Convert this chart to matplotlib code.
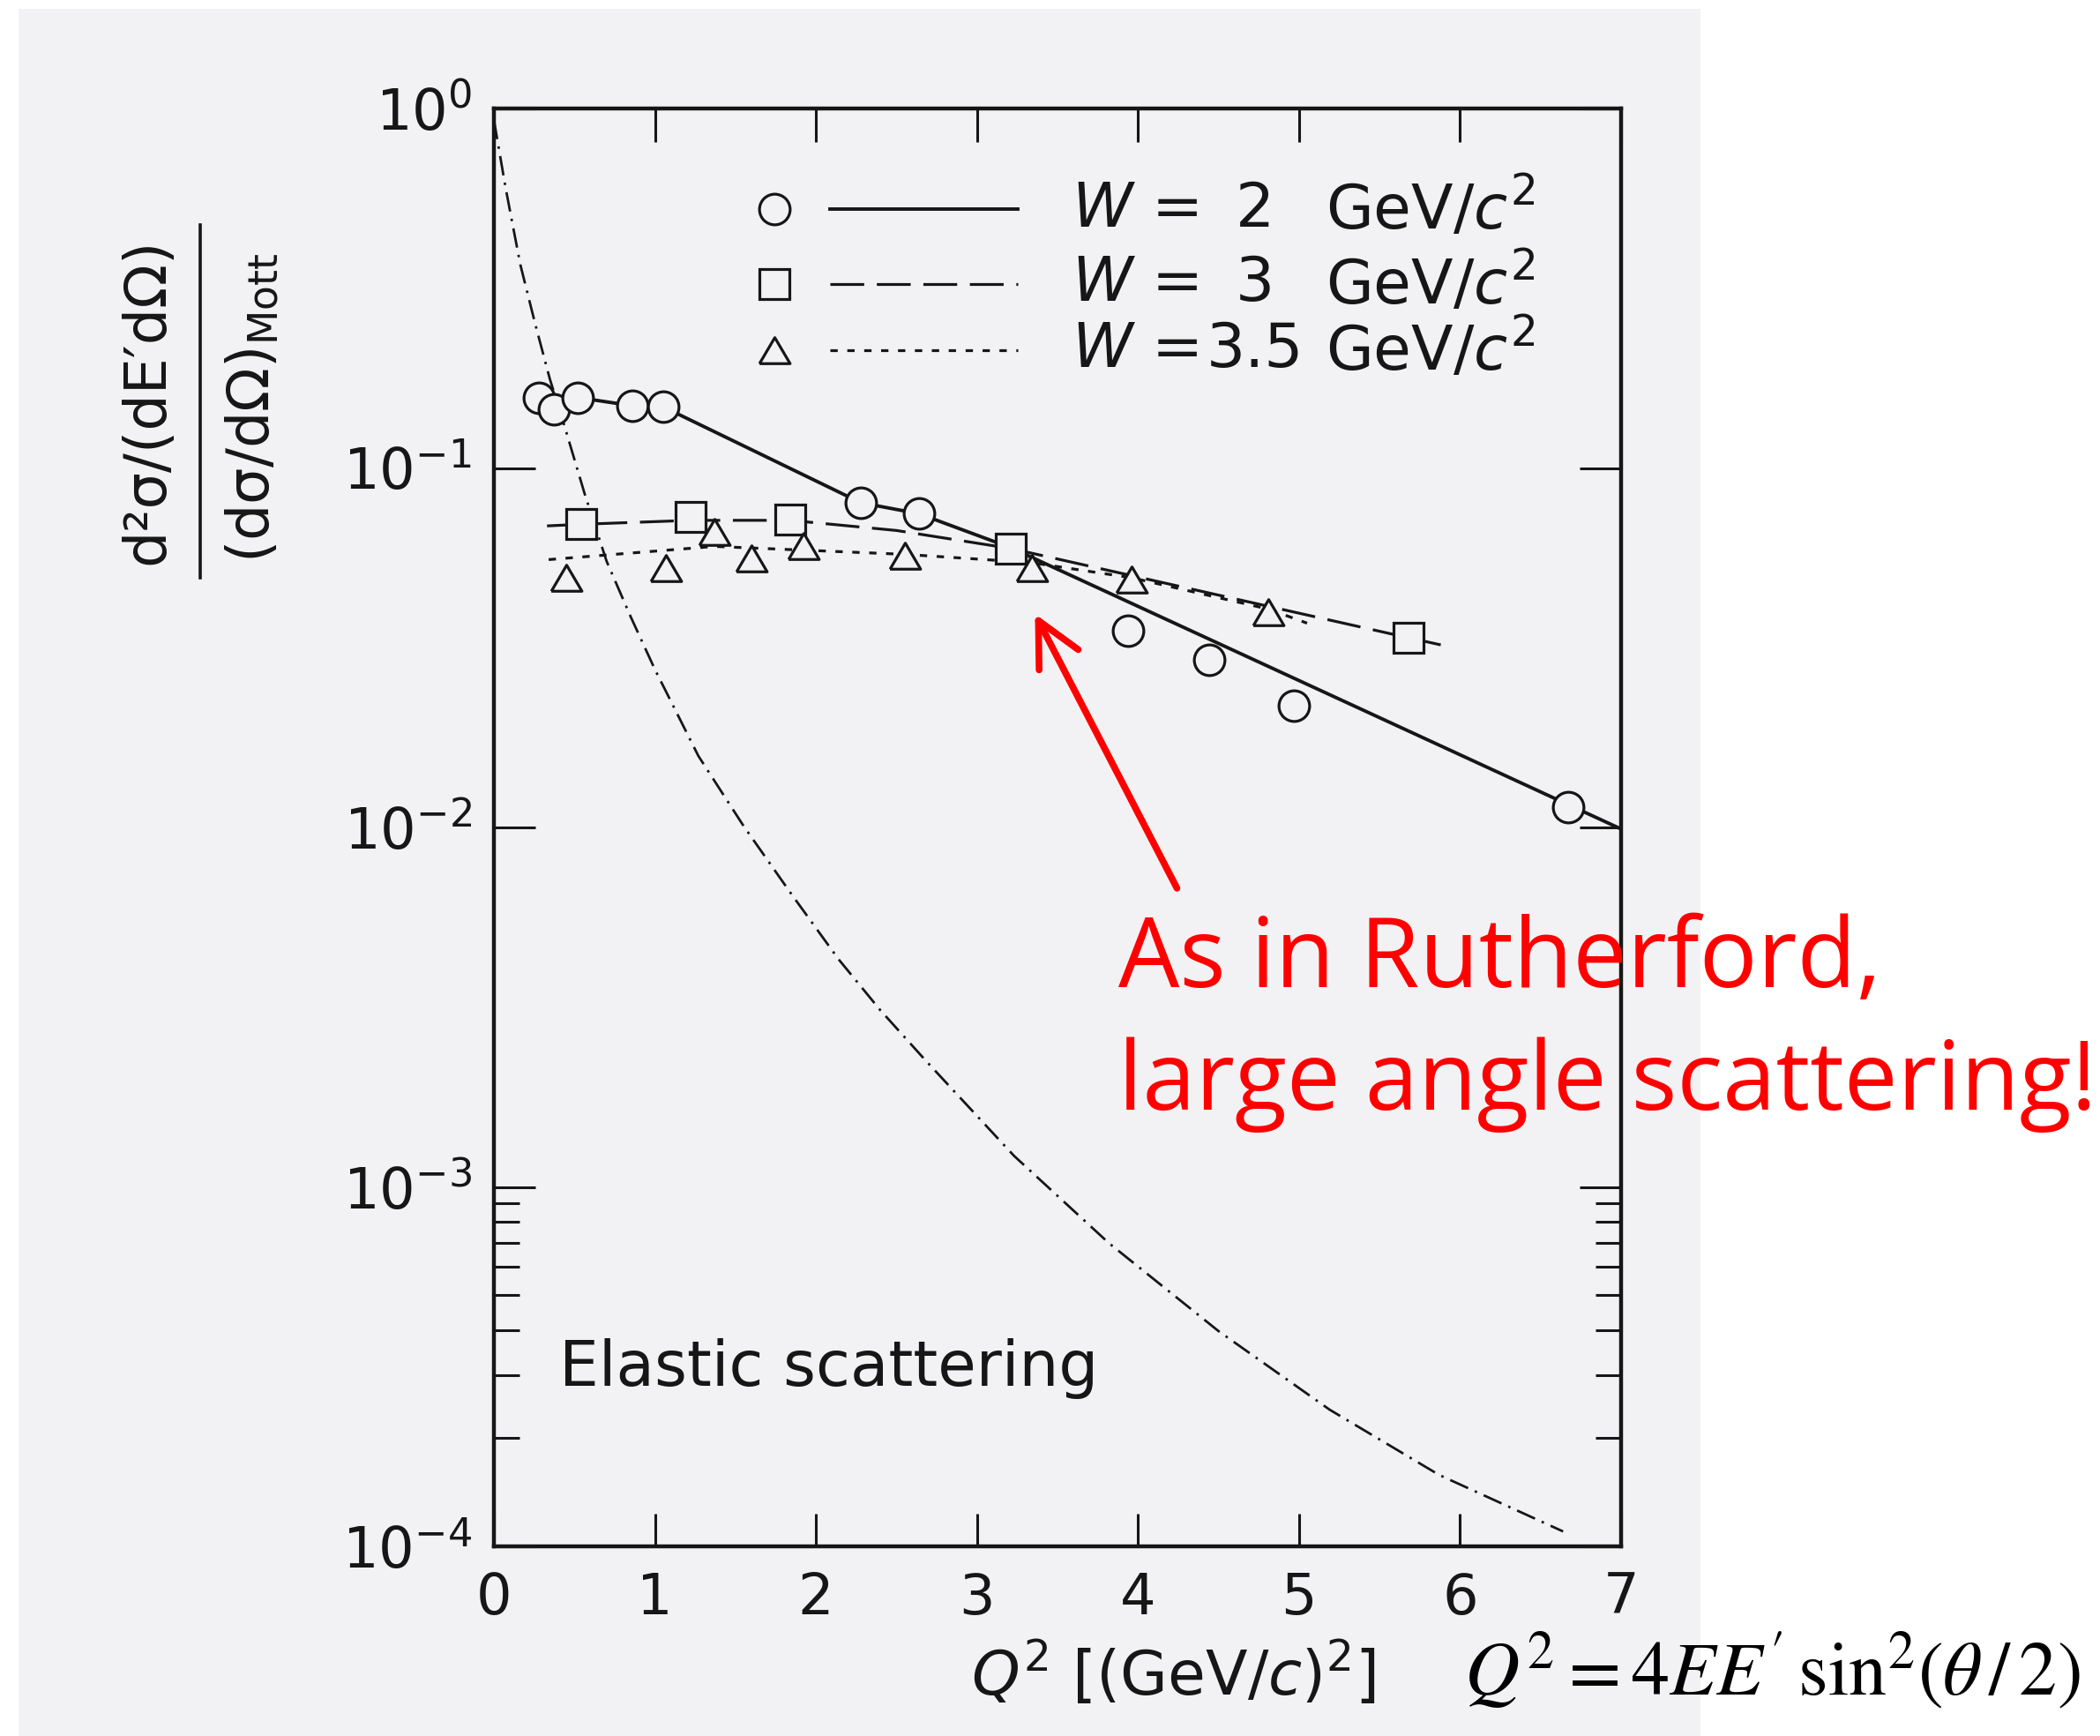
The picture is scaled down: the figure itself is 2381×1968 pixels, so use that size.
import matplotlib
matplotlib.use("Agg")
import matplotlib.pyplot as plt
from matplotlib.patches import Rectangle
from matplotlib.lines import Line2D
from matplotlib.ticker import NullLocator, NullFormatter

# ---------------- data ----------------
# W = 2 GeV/c^2 (circles, solid curve)
w2_q2 = [0.28, 0.37, 0.52, 0.86, 1.05, 2.28, 2.64, 3.94, 4.44, 4.97, 6.67]
w2_val = [0.157, 0.146, 0.157, 0.149, 0.148, 0.080, 0.0746, 0.0353, 0.0293, 0.0218, 0.0114]
w2_line_q2 = [0.28, 0.52, 0.86, 1.05, 2.28, 2.64, 3.21, 7.0]
w2_line_val = [0.157, 0.157, 0.149, 0.148, 0.080, 0.0746, 0.060, 0.0099]

# W = 3 GeV/c^2 (squares, dashed curve)
w3_q2 = [0.54, 1.22, 1.84, 3.21, 5.68]
w3_val = [0.0697, 0.0729, 0.0720, 0.0597, 0.0337]
w3_line_q2 = [0.33, 0.54, 1.22, 1.84, 2.5, 3.21, 5.68, 5.88]
w3_line_val = [0.069, 0.0697, 0.0715, 0.0715, 0.067, 0.0597, 0.0337, 0.0322]

# W = 3.5 GeV/c^2 (triangles, dotted curve)
w35_q2 = [0.45, 1.07, 1.37, 1.60, 1.92, 2.55, 3.34, 3.96, 4.81]
w35_val = [0.0494, 0.0526, 0.0664, 0.0559, 0.0605, 0.0569, 0.0526, 0.0490, 0.0397]
w35_line_q2 = [0.34, 1.37, 2.55, 3.0, 3.34, 3.96, 4.81, 5.05]
w35_line_val = [0.0556, 0.0605, 0.0575, 0.0558, 0.0545, 0.0495, 0.0405, 0.037]

# Elastic scattering (dash-dot curve)
el_q2 = [0.0, 0.073, 0.164, 0.256, 0.347, 0.438, 0.564, 0.70, 0.85, 1.0, 1.27, 1.55,
         1.85, 2.14, 2.4, 2.68, 3.23, 3.82, 4.50, 5.19, 5.87, 6.64]
el_val = [0.93, 0.60, 0.368, 0.252, 0.177, 0.131, 0.0846, 0.055, 0.0385, 0.0275, 0.0158, 0.0101,
          0.0065, 0.0043, 0.0031, 0.00225, 0.00122, 0.000697, 0.000397, 0.000240, 0.000158,
          0.000110]

x_ticks = [0, 1, 2, 3, 4, 5, 6, 7]
x_ticklabels = ["0", "1", "2", "3", "4", "5", "6", "7"]
y_ticks = [1e-4, 1e-3, 1e-2, 1e-1, 1e0]
y_ticklabels = [r"$10^{-4}$", r"$10^{-3}$", r"$10^{-2}$", r"$10^{-1}$", r"$10^{0}$"]
y_minor = [2e-4, 3e-4, 4e-4, 5e-4, 6e-4, 7e-4, 8e-4, 9e-4]

legend_numbers = ["2", "3", "3.5"]

# ---------------- figure ----------------
W, H = 2381, 1968
BG = "#f2f2f4"
INK = "#161616"
fig = plt.figure(figsize=(W / 100, H / 100), dpi=100, facecolor="white")

# scanned page area
fig.patches.append(Rectangle((21 / W, 0), (1928 - 21) / W, 1 - 10 / H,
                             transform=fig.transFigure, facecolor=BG,
                             edgecolor="none", zorder=-10))

ax_l, ax_r, ax_t, ax_b = 560, 1838, 123, 1753
ax = fig.add_axes([ax_l / W, 1 - ax_b / H, (ax_r - ax_l) / W, (ax_b - ax_t) / H])
ax.set_facecolor(BG)
ax.set_yscale("log")
ax.set_xlim(0, 7)
ax.set_ylim(1e-4, 1)

for s in ax.spines.values():
    s.set_linewidth(3.2)
    s.set_color(INK)

ax.set_xticks(x_ticks)
ax.set_xticklabels(x_ticklabels)
ax.xaxis.set_minor_locator(NullLocator())
ax.set_yticks(y_ticks)
ax.set_yticklabels(y_ticklabels)
ax.set_yticks(y_minor, minor=True)
ax.yaxis.set_minor_formatter(NullFormatter())

ax.tick_params(axis="x", which="major", direction="in", top=True, bottom=True,
               length=27, width=2.2, labelsize=46, pad=20, color=INK, labelcolor=INK)
ax.tick_params(axis="y", which="major", direction="in", left=True, right=True,
               length=34, width=2.2, labelsize=46, pad=18, color=INK, labelcolor=INK)
ax.tick_params(axis="y", which="minor", direction="in", left=True, right=True,
               length=21, width=2.2, color=INK)

tri = [(-1, -0.85), (1, -0.85), (0, 0.85), (-1, -0.85)]
mk = dict(markerfacecolor=BG, markeredgecolor=INK, markeredgewidth=2.3,
          linestyle="none", zorder=5)

# curves
ax.plot(el_q2, el_val, color=INK, lw=2.0,
        linestyle=(0, (8, 3, 1, 3)), zorder=3)
ax.plot(w2_line_q2, w2_line_val, color=INK, lw=2.8, linestyle="-", zorder=3)
ax.plot(w3_line_q2, w3_line_val, color=INK, lw=2.3,
        linestyle=(0, (12, 4.5)), zorder=3)
ax.plot(w35_line_q2, w35_line_val, color=INK, lw=2.3,
        linestyle=(0, (2.6, 3.4)), zorder=3)

# data points
ax.plot(w2_q2, w2_val, marker="o", markersize=25, **mk)
ax.plot(w3_q2, w3_val, marker="s", markersize=25, **mk)
ax.plot(w35_q2, w35_val, marker=tri, markersize=25, **mk)

# legend (drawn by hand to match the layout)
rows_y = [0.930, 0.878, 0.832]
markers = ["o", "s", tri]
styles = ["-", (0, (12, 4.5)), (0, (2.6, 3.4))]
lws = [2.8, 2.3, 2.3]
for y, m, ls, lw, num in zip(rows_y, markers, styles, lws, legend_numbers):
    ax.plot([0.249], [y], marker=m, markersize=25, transform=ax.transAxes,
            clip_on=False, **mk)
    ax.plot([0.298, 0.465], [y, y], color=INK, lw=lw, linestyle=ls,
            transform=ax.transAxes)
    ax.text(0.5125, y, r"$W$ =", transform=ax.transAxes, fontsize=50,
            ha="left", va="center", color=INK)
    ax.text(0.675, y, num, transform=ax.transAxes, fontsize=50,
            ha="center", va="center", color=INK)
    ax.text(0.738, y, r"GeV/$c^2$", transform=ax.transAxes, fontsize=50,
            ha="left", va="center", color=INK)

ax.text(0.058, 0.1117, "Elastic scattering", transform=ax.transAxes,
        fontsize=51, ha="left", va="baseline", color=INK)

# y label as a fraction
fig.text(167 / W, 1 - 455 / H, "d²σ/(dE′dΩ)", rotation=90, fontsize=47,
         ha="center", va="center", color=INK)
fig.add_artist(Line2D([227 / W, 227 / W], [1 - 255 / H, 1 - 655 / H],
                      color=INK, lw=2.6, transform=fig.transFigure))
fig.text(287 / W, 1 - 462 / H, r"$\mathregular{(dσ/dΩ)_{Mott}}$", rotation=90,
         fontsize=47, ha="center", va="center", color=INK)

# x label and formula
fig.text(1101 / W, 1 - 1922 / H, r"$Q^2$ [(GeV/$c$)$^2$]", fontsize=50,
         ha="left", va="baseline", color=INK)
fig.text(1660 / W, 1 - 1921 / H, r"$Q^2 = 4EE'\,\mathrm{sin}^2(\theta\,/\,2)$",
         fontsize=62, ha="left", va="baseline", math_fontfamily="stix",
         color="black")

# red annotation
ax.annotate("", xy=(0.480, 0.6485), xytext=(0.606, 0.4577),
            xycoords="axes fraction", textcoords="axes fraction",
            arrowprops=dict(arrowstyle="->,head_length=0.9,head_width=0.45",
                            color="#ff0000", lw=5.5, mutation_scale=40,
                            shrinkA=0, shrinkB=0))
fig.text(1268 / W, 1 - 1119 / H, "As in Rutherford,", fontsize=79,
         family="Open Sans", color="#ff0000", ha="left", va="baseline")
fig.text(1268 / W, 1 - 1258 / H, "large angle scattering!", fontsize=78,
         family="Open Sans", color="#ff0000", ha="left", va="baseline")

fig.savefig("out.png", dpi=100, facecolor="white")
